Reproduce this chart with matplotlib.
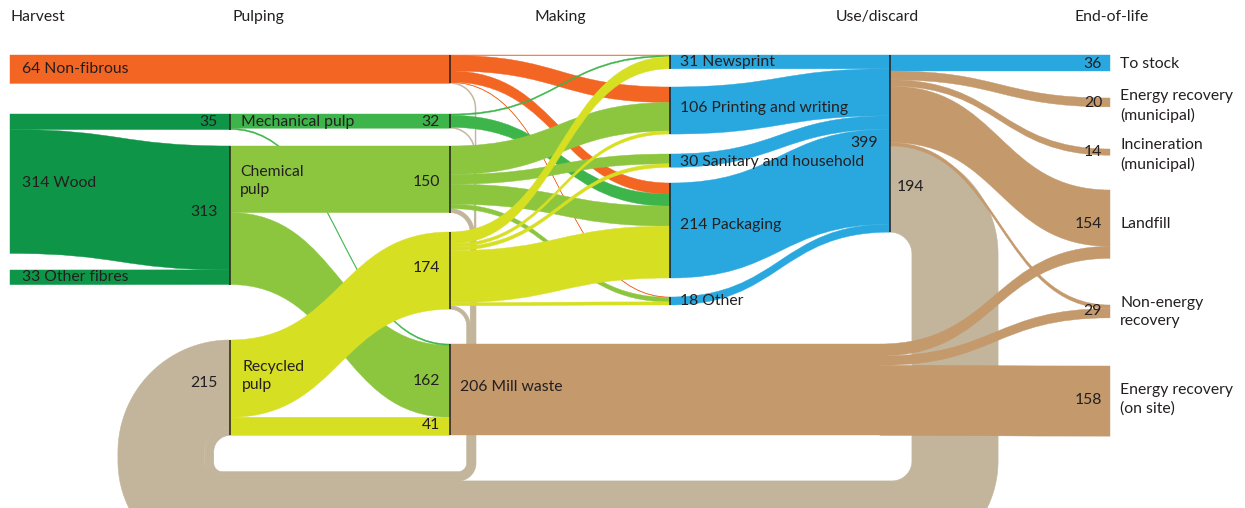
import numpy as np
import matplotlib
matplotlib.use('Agg')
import matplotlib.pyplot as plt
from matplotlib.path import Path
from matplotlib.patches import PathPatch, Polygon

# ---------------- data ----------------
stages = ['Harvest', 'Pulping', 'Making', 'Use/discard', 'End-of-life']

harvest_flows = [
    ('Non-fibrous', 'Non-fibrous (making)', 64),
    ('Wood', 'Mechanical pulp', 35),
    ('Wood', 'Chemical pulp', 279),
    ('Other fibres', 'Chemical pulp', 33),
]
pulping_flows = [
    ('Mechanical pulp', 'Mechanical (making)', 32),
    ('Mechanical pulp', 'Mill waste', 3),
    ('Chemical pulp', 'Chemical (making)', 150),
    ('Chemical pulp', 'Mill waste', 162),
    ('Recycled pulp', 'Recycled (making)', 174),
    ('Recycled pulp', 'Mill waste', 41),
]
making_flows = [
    ('Non-fibrous (making)', 'Newsprint', 1),
    ('Non-fibrous (making)', 'Printing and writing', 35),
    ('Non-fibrous (making)', 'Packaging', 25),
    ('Non-fibrous (making)', 'Other', 1),
    ('Mechanical (making)', 'Newsprint', 3),
    ('Mechanical (making)', 'Packaging', 27),
    ('Chemical (making)', 'Printing and writing', 64),
    ('Chemical (making)', 'Sanitary and household', 22),
    ('Chemical (making)', 'Packaging', 45),
    ('Chemical (making)', 'Other', 10),
    ('Recycled (making)', 'Newsprint', 27),
    ('Recycled (making)', 'Printing and writing', 7),
    ('Recycled (making)', 'Sanitary and household', 8),
    ('Recycled (making)', 'Packaging', 117),
    ('Recycled (making)', 'Other', 7),
]
use_flows = [
    ('Newsprint', 'Use/discard', 31),
    ('Printing and writing', 'Use/discard', 106),
    ('Sanitary and household', 'Use/discard', 30),
    ('Packaging', 'Use/discard', 214),
    ('Other', 'Use/discard', 18),
]
eol_flows = [
    ('Use/discard', 'To stock', 36),
    ('Use/discard', 'Energy recovery (municipal)', 20),
    ('Use/discard', 'Incineration (municipal)', 14),
    ('Use/discard', 'Landfill', 127),
    ('Use/discard', 'Non-energy recovery', 8),
    ('Mill waste', 'Landfill', 27),
    ('Mill waste', 'Non-energy recovery', 21),
    ('Mill waste', 'Energy recovery (on site)', 158),
]
recycling = 194   # Use/discard -> Recycled pulp
scrap_flows = [('Non-fibrous (making)', 2), ('Mechanical (making)', 2),
               ('Chemical (making)', 9), ('Recycled (making)', 8)]

# labels (text, x, y, ha)
labels = [
    ('64 Non-fibrous', 22, 69, 'left'),
    ('35', 218, 122, 'right'), ('Mechanical pulp', 241, 122, 'left'), ('32', 440, 122, 'right'),
    ('314 Wood', 22, 183, 'left'), ('313', 218, 212, 'right'),
    ('Chemical\npulp', 240, 181, 'left'), ('150', 440, 182, 'right'),
    ('174', 440, 268, 'right'), ('33 Other fibres', 22, 277, 'left'),
    ('215', 218, 383, 'right'), ('Recycled\npulp', 242, 376, 'left'),
    ('162', 440, 381, 'right'), ('41', 440, 425, 'right'),
    ('206 Mill waste', 460, 387, 'left'),
    ('31 Newsprint', 680, 62, 'left'), ('106 Printing and writing', 680, 108, 'left'),
    ('30 Sanitary and household', 680, 162, 'left'), ('214 Packaging', 680, 225, 'left'),
    ('18 Other', 680, 301, 'left'),
    ('399', 878, 143, 'right'), ('194', 897, 187, 'left'),
    ('36', 1102, 64, 'right'), ('To stock', 1120, 64, 'left'),
    ('20', 1102, 103, 'right'), ('Energy recovery\n(municipal)', 1120, 106, 'left'),
    ('14', 1102, 152, 'right'), ('Incineration\n(municipal)', 1120, 155, 'left'),
    ('154', 1102, 224, 'right'), ('Landfill', 1120, 224, 'left'),
    ('29', 1102, 311, 'right'), ('Non-energy\nrecovery', 1120, 312, 'left'),
    ('158', 1102, 400, 'right'), ('Energy recovery\n(on site)', 1120, 399, 'left'),
]

# ---------------- layout / style ----------------
K = 0.444  # px per unit
ORANGE, DKGREEN, MGREEN = '#f26522', '#0f9548', '#3db54a'
LGREEN, YELLOW, BLUE = '#8cc63f', '#d7df23', '#29a8e0'
BROWN, KHAKI, TXT = '#c4996c', '#c2b59b', '#231f20'

pos = {
    'Non-fibrous': (10, 55), 'Wood': (10, 114), 'Other fibres': (10, 270),
    'Mechanical pulp': (230, 114), 'Chemical pulp': (230, 146), 'Recycled pulp': (230, 340),
    'Non-fibrous (making)': (450, 55), 'Mechanical (making)': (450, 114),
    'Chemical (making)': (450, 146), 'Recycled (making)': (450, 232), 'Mill waste': (450, 344),
    'Newsprint': (670, 55), 'Printing and writing': (670, 87),
    'Sanitary and household': (670, 154), 'Packaging': (670, 183), 'Other': (670, 297),
    'Use/discard': (890, 55),
    'To stock': (1110, 55), 'Energy recovery (municipal)': (1110, 98),
    'Incineration (municipal)': (1110, 149), 'Landfill': (1110, 190),
    'Non-energy recovery': (1110, 305), 'Energy recovery (on site)': (1110, 366),
}
color = {
    'Non-fibrous': ORANGE, 'Wood': DKGREEN, 'Other fibres': DKGREEN,
    'Mechanical pulp': MGREEN, 'Chemical pulp': LGREEN, 'Recycled pulp': YELLOW,
    'Non-fibrous (making)': ORANGE, 'Mechanical (making)': MGREEN,
    'Chemical (making)': LGREEN, 'Recycled (making)': YELLOW, 'Mill waste': BROWN,
    'Newsprint': BLUE, 'Printing and writing': BLUE, 'Sanitary and household': BLUE,
    'Packaging': BLUE, 'Other': BLUE, 'Use/discard': BROWN, 'To stock': BLUE,
}
# drawing order for the crossing pulping flows
zflow = {('Chemical pulp', 'Mill waste'): 2.0, ('Mechanical pulp', 'Mill waste'): 2.05,
         ('Chemical pulp', 'Chemical (making)'): 2.1, ('Recycled pulp', 'Recycled (making)'): 2.2,
         ('Recycled pulp', 'Mill waste'): 2.2}
curve_start = {'Mill waste': 880}

fig = plt.figure(figsize=(12.45, 5.08), dpi=100)
ax = fig.add_axes([0, 0, 1, 1])
ax.set_xlim(0, 1245)
ax.set_ylim(508, 0)
ax.axis('off')


def band(x0, y0, x1, y1, w, c, z=2):
    xm = (x0 + x1) / 2
    verts = [(x0, y0), (xm, y0), (xm, y1), (x1, y1),
             (x1, y1 + w), (xm, y1 + w), (xm, y0 + w), (x0, y0 + w), (x0, y0)]
    codes = [Path.MOVETO, Path.CURVE4, Path.CURVE4, Path.CURVE4, Path.LINETO,
             Path.CURVE4, Path.CURVE4, Path.CURVE4, Path.CLOSEPOLY]
    ax.add_patch(PathPatch(Path(verts, codes), fc=c, ec=c, lw=0.3, zorder=z))


def rounded_line(pts, radii, n=40):
    out = [np.array(pts[0], float)]
    for i in range(1, len(pts) - 1):
        p = np.array(pts[i], float)
        d1 = p - np.array(pts[i - 1], float)
        d1 /= np.linalg.norm(d1)
        d2 = np.array(pts[i + 1], float) - p
        d2 /= np.linalg.norm(d2)
        r = radii[i - 1]
        c = p - d1 * r + d2 * r
        t = np.linspace(0, np.pi / 2, n)
        out.extend(c - np.outer(np.cos(t), d2 * r) + np.outer(np.sin(t), d1 * r))
    out.append(np.array(pts[-1], float))
    # densify and drop duplicates
    dense = [out[0]]
    for a, b in zip(out[:-1], out[1:]):
        L = np.linalg.norm(b - a)
        if L < 1e-9:
            continue
        m = max(1, int(L / 2))
        for s in np.linspace(0, 1, m + 1)[1:]:
            dense.append(a + (b - a) * s)
    return np.array(dense)


def thick(line, w, c, z=1):
    d = np.gradient(line, axis=0)
    d /= np.linalg.norm(d, axis=1)[:, None]
    nrm = np.column_stack([-d[:, 1], d[:, 0]])
    poly = np.vstack([line + nrm * w / 2, (line - nrm * w / 2)[::-1]])
    ax.add_patch(Polygon(poly, closed=True, fc=c, ec=c, lw=0.4, zorder=z))


out_off, in_off, tot_in, tot_out = {}, {}, {}, {}
for grp in [harvest_flows, pulping_flows, making_flows, use_flows, eol_flows]:
    for s, t, v in grp:
        w = v * K
        xs, ys = pos[s]
        xt, yt = pos[t]
        y0 = ys + out_off.get(s, 0)
        y1 = yt + in_off.get(t, 0)
        c = color[t] if t == 'To stock' else color[s]
        z = zflow.get((s, t), 2)
        if s in curve_start:
            xc = curve_start[s]
            ax.add_patch(plt.Rectangle((xs, y0), xc - xs, w, fc=c, ec=c, lw=0.3, zorder=z))
            xs = xc
        band(xs, y0, xt, y1, w, c, z)
        out_off[s] = out_off.get(s, 0) + w
        in_off[t] = in_off.get(t, 0) + w
        tot_out[s] = tot_out.get(s, 0) + v
        tot_in[t] = tot_in.get(t, 0) + v

# recycling loop: Use/discard -> Recycled pulp (behind everything)
w = recycling * K
ys = pos['Use/discard'][1] + out_off['Use/discard'] + w / 2
ye = pos['Recycled pulp'][1] + w / 2
xr, yb, xl = 955, 524, 161
loop = rounded_line([(890, ys), (xr, ys), (xr, yb), (xl, yb), (xl, ye), (230, ye)],
                    [xr - 890, 63, 63, 230 - xl])
thick(loop, w, KHAKI, z=1)

# mill scrap back to recycled pulp
edge_r, edge_b, edge_l = 476, 481, 204.4
cum = 0
for s, v in scrap_flows:
    ws = v * K
    d = cum + ws / 2
    y0 = pos[s][1] + out_off[s] + ws / 2
    y1 = pos['Recycled pulp'][1] + w + d
    x_r, y_b, x_l = edge_r - d, edge_b - d, edge_l + d
    line = rounded_line([(450, y0), (x_r, y0), (x_r, y_b), (x_l, y_b), (x_l, y1), (230, y1)],
                        [x_r - 450, 18 - d, 18 - d, 230 - x_l])
    thick(line, ws, KHAKI, z=1)
    cum += ws
    tot_out[s] = tot_out.get(s, 0) + v

# node lines
for name, (x, y) in pos.items():
    if x in (230, 450, 670, 890):
        size = max(tot_in.get(name, 0), tot_out.get(name, 0)) * K
        ax.plot([x, x], [y, y + size], color=TXT, lw=1.1, zorder=5, solid_capstyle='butt')

font = dict(family=['Lato', 'DejaVu Sans'], fontsize=11.3, color=TXT)
for x, s in zip([10, 232, 535, 836, 1075], stages):
    ax.text(x, 17, s, ha='left', va='center', zorder=6, **font)
for s, x, y, ha in labels:
    ax.text(x, y, s, ha=ha, va='center', linespacing=1.4, zorder=6, **font)

fig.savefig('out.png', dpi=100)
